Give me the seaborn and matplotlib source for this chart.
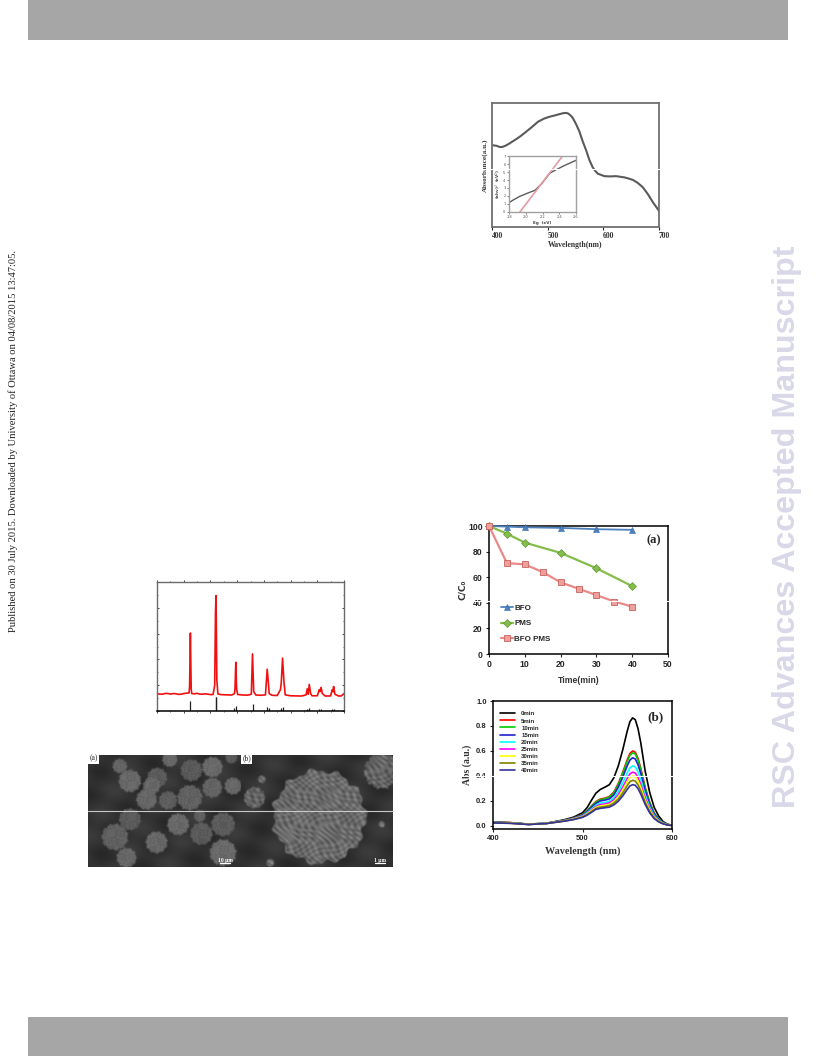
import matplotlib
matplotlib.use("Agg")
from matplotlib import pyplot as plt
from matplotlib.lines import Line2D
from matplotlib.patches import Rectangle
from matplotlib.transforms import ScaledTranslation
import numpy as np
import seaborn as sns

sns.set_style("white")
W, H = 816, 1056
SERIF = "Liberation Serif"
SANS = "Liberation Sans"

# Absorbance panel
abs_wl = [400, 408, 414, 418, 424, 430, 437, 444, 452, 459, 470, 483, 494, 504, 513, 521, 528, 533, 537, 541, 545, 551, 557, 563, 569, 575, 581, 586, 590, 596, 602, 612, 623, 638, 646, 653, 662, 671, 680, 689, 700]
abs_val = [0.66, 0.655, 0.645, 0.645, 0.655, 0.67, 0.69, 0.71, 0.735, 0.76, 0.80, 0.85, 0.875, 0.89, 0.90, 0.91, 0.918, 0.92, 0.915, 0.90, 0.88, 0.83, 0.77, 0.69, 0.62, 0.54, 0.48, 0.45, 0.43, 0.42, 0.41, 0.408, 0.41, 0.40, 0.39, 0.38, 0.355, 0.32, 0.265, 0.20, 0.13]
inset_x = [1.8, 1.85, 1.93, 2.02, 2.11, 2.19, 2.29, 2.33, 2.45, 2.6]
inset_y = [1.17, 1.5, 1.96, 2.35, 2.71, 3.54, 4.88, 5.1, 5.75, 6.46]
fit_x = [1.93, 2.44]
fit_y = [0, 7]

# Degradation panel (a)
t_bfo = [0, 5, 10, 20, 30, 40]
c_bfo = [100, 99.5, 99, 98.5, 97.5, 97]
t_pms = [0, 5, 10, 20, 30, 40]
c_pms = [100, 94, 87, 79, 67, 53]
t_both = [0, 5, 10, 15, 20, 25, 30, 35, 40]
c_both = [100, 71, 70, 64, 56, 51, 46, 41, 37]

# Spectra panel (b)
wl = [400, 420, 440, 460, 480, 490, 500, 505, 510, 515, 520, 525, 530, 535, 540, 545, 550, 553, 556, 559, 562, 565, 570, 575, 580, 585, 590, 595, 600]
spec_labels = ["0min", "5min", "10min", "15min", "20min", "25min", "30min", "35min", "40min"]
spec_colors = ["black", "red", "#00cc00", "#2020d0", "cyan", "magenta", "yellow", "#808000", "#333399"]
spec_0 = [.030, .025, .012, .020, .050, .070, .105, .145, .205, .262, .292, .310, .330, .385, .480, .610, .760, .835, .865, .850, .780, .670, .440, .270, .150, .080, .035, .013, .005]
spec_5 = [.030, .026, .014, .022, .045, .063, .090, .120, .160, .195, .215, .222, .235, .270, .340, .430, .530, .580, .600, .590, .540, .465, .310, .190, .105, .055, .026, .011, .004]
spec_10 = [.029, .025, .014, .022, .045, .062, .088, .118, .157, .190, .210, .217, .230, .263, .330, .420, .517, .566, .585, .575, .527, .453, .302, .185, .102, .054, .026, .011, .004]
spec_15 = [.028, .024, .013, .021, .044, .060, .085, .112, .148, .180, .200, .206, .216, .247, .310, .390, .482, .527, .545, .536, .490, .422, .282, .173, .096, .050, .024, .010, .004]
spec_20 = [.027, .023, .013, .021, .042, .058, .080, .105, .135, .165, .182, .187, .197, .225, .275, .345, .425, .465, .480, .472, .433, .372, .248, .152, .084, .045, .022, .009, .004]
spec_25 = [.026, .022, .012, .020, .041, .056, .077, .098, .128, .155, .170, .175, .184, .208, .250, .310, .380, .417, .430, .423, .388, .333, .222, .137, .076, .040, .020, .008, .003]
spec_30 = [.026, .022, .012, .020, .040, .054, .074, .094, .122, .148, .160, .165, .172, .195, .233, .288, .355, .388, .400, .393, .360, .310, .207, .127, .071, .038, .019, .008, .003]
spec_35 = [.025, .021, .011, .019, .039, .052, .071, .090, .115, .140, .150, .155, .162, .182, .215, .264, .323, .354, .365, .359, .329, .283, .190, .116, .065, .035, .018, .007, .003]
spec_40 = [.024, .020, .011, .019, .038, .050, .068, .085, .108, .132, .140, .145, .150, .168, .197, .240, .292, .320, .330, .325, .298, .256, .172, .105, .059, .032, .016, .007, .003]
spectra = [spec_0, spec_5, spec_10, spec_15, spec_20, spec_25, spec_30, spec_35, spec_40]

# XRD panel
xrd_x = [10, 11, 12, 13, 14, 15, 16, 17, 18, 19, 20, 21, 22, 22.2, 22.5, 22.8, 23, 24, 25, 26, 27, 28, 29, 30, 31, 31.6, 31.9, 32.1, 32.4, 32.8, 34, 36, 38,
         39, 39.2, 39.5, 39.8, 40.2, 42, 44, 45.3, 45.75, 46.2, 47, 49, 50.6, 51.25, 51.6, 52, 53, 55, 56.2, 56.5, 57, 57.5, 58,
         60, 62, 64, 65.8, 66.25, 66.6, 67, 67.5, 68, 70, 70.75, 71, 71.4, 71.9, 73, 75, 75.6, 75.9, 76.1, 76.6, 78, 79, 80]
xrd_y = [.135, .131, .130, .136, .136, .131, .135, .134, .129, .130, .135, .138, .140, .190, .604, .170, .136, .133, .137, .131, .130, .133, .131, .127, .128, .200, .770, .894, .240, .132, .127, .125, .124,
         .135, .175, .378, .170, .128, .124, .123, .130, .443, .150, .124, .122, .125, .324, .240, .135, .122, .120, .165, .215, .410, .230, .125,
         .118, .117, .116, .125, .172, .130, .206, .135, .118, .118, .165, .150, .183, .135, .116, .117, .165, .150, .190, .130, .116, .117, .135]
stick_x = [22.5, 31.9, 32.1, 39, 39.6, 45.75, 51.25, 51.75, 56.5, 57, 66.25, 67, 70.75, 71.5, 75.6, 76.1]
stick_h = [.078, .106, .106, .026, .042, .054, .030, .023, .023, .028, .016, .021, .013, .013, .018, .018]

# SEM micrograph blobs (a) and (b), in reference zoom pixels
sem_a_x = [120, 150, 232, 270, 335, 398, 215, 330, 200, 265, 398, 460, 150, 295, 105, 230, 365, 140, 430, 430, 455, 360]
sem_a_y = [65, 110, 100, 45, 78, 68, 125, 160, 165, 168, 130, 125, 225, 240, 278, 294, 268, 340, 240, 325, 40, 215]
sem_a_r = [24, 36, 32, 25, 35, 33, 28, 40, 33, 30, 32, 28, 35, 35, 42, 35, 36, 32, 38, 42, 20, 20]
sem_b_x = [718, 523, 905, 545, 905, 570]
sem_b_y = [218, 160, 80, 105, 240, 355]
sem_b_r = [142, 34, 55, 14, 12, 14]


def make_axes(left, top, right, bottom):
    return fig.add_axes([left / W, 1 - bottom / H, (right - left) / W, (bottom - top) / H])


def frame(ax, color="black", width=1.0):
    for s in ax.spines.values():
        s.set_visible(True)
        s.set_color(color)
        s.set_linewidth(width)


# soft grey picture of rough balls on a dark ground, like the micrographs
def sem_picture(xs, ys, rs, x0, x1, freq, base, amp):
    gx, gy = np.meshgrid(np.linspace(x0, x1, 240), np.linspace(30, 367, 180))
    img = 50 + 6 * np.sin(gx / 23 + gy / 41) + 4 * np.sin(gy / 13 - gx / 37)
    for bx, by, br in zip(xs, ys, rs):
        dist = np.hypot(gx - bx, gy - by)
        ang = np.arctan2(gy - by, gx - bx)
        edge = br * (1 + 0.04 * np.sin(11 * ang + bx) + 0.025 * np.sin(23 * ang + by))
        mask = np.clip((edge - dist) / 6, 0, 1)
        tex = (np.sin(gx * freq + 4 * np.sin(gy * freq * 0.37)) * np.sin(gy * freq * 1.3 + 3 * np.sin(gx * freq * 0.29))
               + 0.6 * np.sin(gx * freq * 2.1 - gy * freq * 1.7 + 2 * np.sin(gy * freq * 0.5)))
        ball = base + amp * tex + 8 * np.sin(bx + by)
        img = img * (1 - mask) + ball * mask
    return img


fig = plt.figure(figsize=(W / 100, H / 100), dpi=100, facecolor="white")

# page furniture
fig.add_artist(Rectangle((28 / W, 1 - 40 / H), 760 / W, 40 / H, transform=fig.transFigure, color="#a6a6a6", lw=0))
fig.add_artist(Rectangle((28 / W, 0), 760 / W, 39 / H, transform=fig.transFigure, color="#a6a6a6", lw=0))
fig.text(787 / W, 1 - 527 / H, "RSC Advances Accepted Manuscript", rotation=90, ha="center", va="center",
         fontsize=23.2, fontweight="bold", color="#d8d8e8", family="Liberation Sans")
fig.text(13 / W, 1 - 441 / H, "Published on 30 July 2015. Downloaded by University of Ottawa on 04/08/2015 13:47:05.",
         rotation=90, ha="center", va="center", fontsize=7.6, color="#222222", family=SERIF)

# Absorbance
ax = make_axes(492, 103, 659, 227)
sns.lineplot(x=abs_wl, y=abs_val, ax=ax, color="#5a5a5a", lw=1.5, estimator=None, sort=False)
ax.set_xlim(400, 700)
ax.set_ylim(0, 1)
frame(ax, "#707070", 1.3)
ax.set_xticks([400, 500, 600, 700])
ax.set_yticks([])
ax.tick_params(axis="x", bottom=True, length=2, width=0.8, labelsize=5.5, pad=1.5, labelcolor="#333333")
shift = ScaledTranslation(5.5 / 100, 0, fig.dpi_scale_trans)
for t in ax.get_xticklabels():
    t.set_family(SERIF)
    t.set_fontweight("bold")
    t.set_transform(t.get_transform() + shift)
ax.set_xlabel("Wavelength(nm)", fontsize=5.5, family=SERIF, fontweight="bold", color="#333333", labelpad=1)
ax.set_ylabel("Absorbance(a.u.)", fontsize=5.2, family=SERIF, fontweight="bold", color="#333333", labelpad=3)

ins = make_axes(509, 156, 576, 212)
sns.lineplot(x=inset_x, y=inset_y, ax=ins, color="#5a5a5a", lw=1.0, estimator=None, sort=False)
sns.lineplot(x=fit_x, y=fit_y, ax=ins, color="#e39aa2", lw=1.2, estimator=None, sort=False)
ins.set_xlim(1.8, 2.6)
ins.set_ylim(0, 7)
frame(ins, "#a0a0a0", 1.0)
ins.set_xticks([1.8, 2.0, 2.2, 2.4, 2.6])
ins.set_yticks(range(8))
ins.tick_params(left=True, bottom=True, length=1.5, width=0.4, labelsize=2.6, pad=1, labelcolor="#555555")
ins.set_xlabel("Eg  (eV)", fontsize=3, fontweight="bold", labelpad=1, color="#444444")
ins.set_ylabel("(ahv)$^2$  (eV$^2$)", fontsize=3, fontweight="bold", labelpad=1, color="#444444")

# Panel (a)
ax = make_axes(489, 526, 668, 654)
sns.lineplot(x=t_bfo, y=c_bfo, ax=ax, color="#4f81bd", lw=1.3, marker="^", ms=5, mec="#2f6aa8", mew=0.4,
             estimator=None, label="BFO", clip_on=False, zorder=3)
sns.lineplot(x=t_pms, y=c_pms, ax=ax, color="#85bd4a", lw=1.6, marker="D", ms=3.8, mec="#4f8a2a", mew=0.4,
             estimator=None, label="PMS", clip_on=False, zorder=3)
sns.lineplot(x=t_both, y=c_both, ax=ax, color="#ea8a88", lw=1.6, marker="s", ms=5, mfc="#eda09c", mec="#c9605c", mew=0.6,
             estimator=None, label="BFO PMS", clip_on=False, zorder=3)
ax.set_xlim(0, 50)
ax.set_ylim(0, 100)
frame(ax, "black", 1.1)
ax.set_xticks(range(0, 51, 10))
ax.set_yticks(range(0, 101, 20))
ax.tick_params(left=True, bottom=True, length=2.5, width=0.8, labelsize=6.2, pad=2)
for t in ax.get_xticklabels() + ax.get_yticklabels():
    t.set_family(SANS)
    t.set_fontweight("bold")
ax.set_xlabel("Time(min)", fontsize=6.2, family=SANS, fontweight="bold", color="#333333", labelpad=5)
ax.set_ylabel("C/C₀", fontsize=6.5, family="DejaVu Sans", fontweight="bold", color="#333333", labelpad=1)
ax.text(46, 89, "(a)", fontsize=9, family=SERIF, fontweight="bold", ha="center", va="center")
ax.legend(loc="lower left", bbox_to_anchor=(0.05, 0.06), frameon=False, handlelength=1.5, handletextpad=0.1,
          labelspacing=1.0, borderaxespad=0, prop={"family": SANS, "weight": "bold", "size": 5.8})

# Panel (b)
ax = make_axes(493, 701, 672, 829)
for vals, name, col in zip(spectra, spec_labels, spec_colors):
    sns.lineplot(x=wl, y=vals, ax=ax, color=col, lw=1.2, estimator=None, label=name)
ax.set_xlim(400, 600)
ax.set_ylim(-0.025, 1.0)
frame(ax, "black", 1.1)
ax.set_xticks([400, 500, 600])
ax.set_yticks([0, 0.2, 0.4, 0.6, 0.8, 1.0])
ax.set_yticklabels(["0.0", "0.2", "0.4", "0.6", "0.8", "1.0"])
ax.tick_params(left=True, bottom=True, length=2.5, width=0.8, labelsize=5.5, pad=2)
for t in ax.get_xticklabels() + ax.get_yticklabels():
    t.set_family(SANS)
    t.set_fontweight("bold")
ax.set_xlabel("Wavelength (nm)", fontsize=7.3, family=SERIF, fontweight="bold", labelpad=3, color="#333333")
ax.set_ylabel("Abs (a.u.)", fontsize=7, family=SERIF, fontweight="bold", labelpad=3, color="#333333")
ax.text(582, 0.87, "(b)", fontsize=9.5, family=SERIF, fontweight="bold", ha="center", va="center")
ax.legend(loc="upper left", bbox_to_anchor=(0.026, 0.94), frameon=False, handlelength=2.45, handletextpad=1.0,
          labelspacing=0.3, borderaxespad=0, prop={"family": SANS, "weight": "bold", "size": 4.4})

# XRD
ax = make_axes(157, 582, 344, 711)
sns.lineplot(x=xrd_x, y=xrd_y, ax=ax, color="#f01010", lw=1.2, estimator=None, sort=False)
ax.vlines(stick_x, 0, stick_h, color="#222222", lw=0.9)
ax.set_xlim(10, 80)
ax.set_ylim(0, 1)
frame(ax, "#6a6a6a", 1.0)
ax.spines["bottom"].set_linewidth(1.1)
ax.spines["bottom"].set_color("black")
ax.set_xticks(range(10, 81, 10))
ax.set_xticks(range(15, 80, 10), minor=True)
ax.set_yticks([i / 10 for i in range(0, 11, 2)])
ax.set_yticks([i / 10 for i in range(1, 10, 2)], minor=True)
ax.tick_params(which="major", left=True, right=True, bottom=True, top=True, direction="in", length=1.5, width=0.6,
               labelleft=False, labelbottom=False)
ax.tick_params(which="minor", left=True, right=True, bottom=True, top=True, direction="in", length=1.0, width=0.5)
ax.tick_params(axis="x", which="both", bottom=True, direction="out")

# SEM
sem_panels = [
    ((88, 755, 241, 867), sem_a_x, sem_a_y, sem_a_r, (25, 483), "(a)", "10 µm", 436, 0.35, 98, 9),
    ((241, 755, 393, 867), sem_b_x, sem_b_y, sem_b_r, (483, 938), "(b)", "1 µm", 898, 0.16, 108, 17),
]
for box, xs, ys, rs, lims, label, bar, bar_x, freq, base, amp in sem_panels:
    ax = make_axes(box[0], box[1], box[2], box[3])
    ax.imshow(sem_picture(xs, ys, rs, lims[0], lims[1], freq, base, amp), cmap="gray", vmin=0, vmax=255,
              extent=(lims[0], lims[1], 367, 30), aspect="auto", interpolation="bilinear")
    ax.set_xticks([])
    ax.set_yticks([])
    for s in ax.spines.values():
        s.set_visible(False)
    ax.text(lims[0] + 4, 41, label, fontsize=5.5, family=SERIF, ha="left", va="center",
            bbox=dict(fc="white", ec="none", pad=0.8))
    ax.text(bar_x, 346, bar, fontsize=4, family=SERIF, fontweight="bold", color="white", ha="center", va="center")
    ax.plot([bar_x - 15, bar_x + 15], [354, 354], color="white", lw=0.9)

# scan stripes across the page
for y, x0, x1, col in [(169, 470, 680, "white"), (601, 450, 680, "white"), (776, 450, 680, "white"), (811, 88, 393, "#c8c8c8")]:
    fig.add_artist(Line2D([x0 / W, x1 / W], [1 - y / H, 1 - y / H], transform=fig.transFigure, color=col, lw=0.8, zorder=20))

fig.savefig("out.png", dpi=100)
